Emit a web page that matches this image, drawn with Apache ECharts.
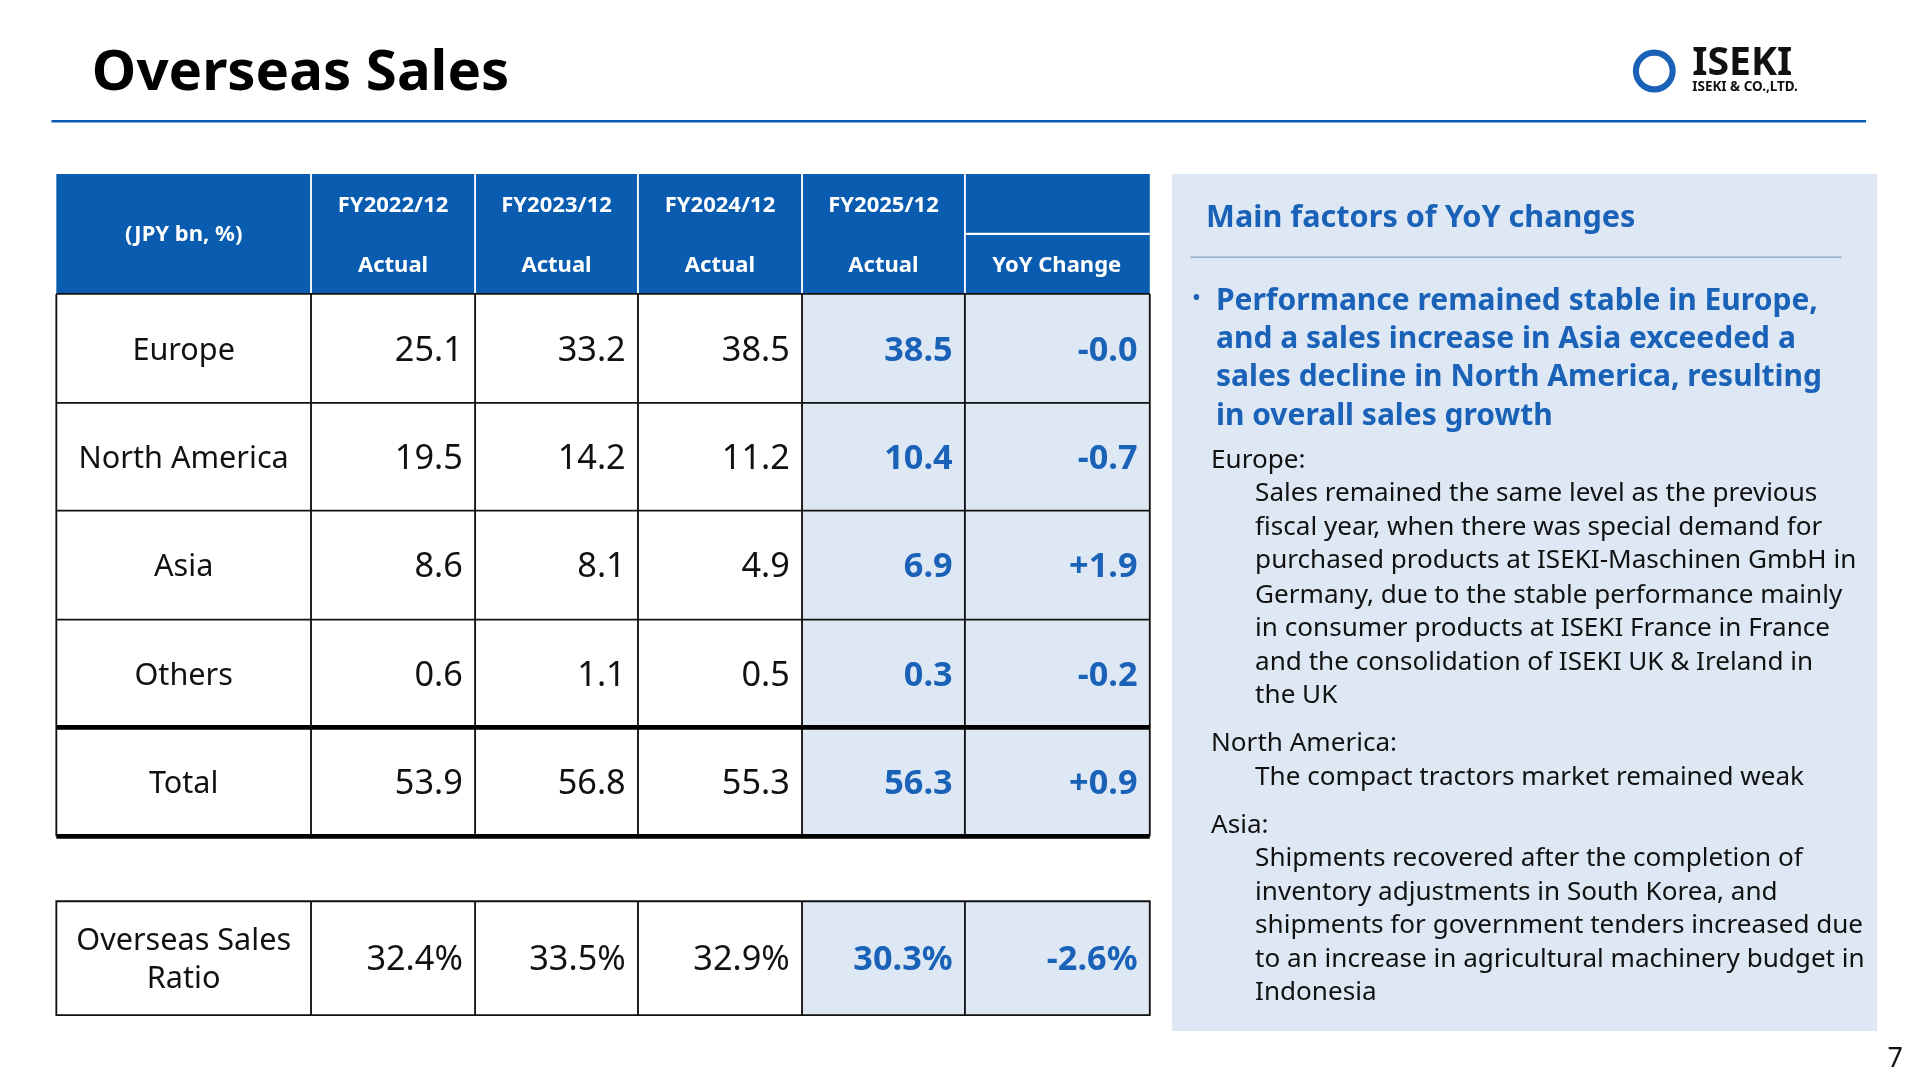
<!DOCTYPE html>
<html><head><meta charset="utf-8">
<script src="https://cdn.jsdelivr.net/npm/echarts@6/dist/echarts.min.js"></script>
<style>html,body{margin:0;padding:0;background:#fff}#main{width:1920px;height:1080px}</style>
</head><body><div id="main"></div>
<script>
// table data
const years = ['FY2022/12', 'FY2023/12', 'FY2024/12', 'FY2025/12']
const regions = ['Europe', 'North America', 'Asia', 'Others', 'Total']
const fy2022 = ['25.1', '19.5', '8.6', '0.6', '53.9']
const fy2023 = ['33.2', '14.2', '8.1', '1.1', '56.8']
const fy2024 = ['38.5', '11.2', '4.9', '0.5', '55.3']
const fy2025 = ['38.5', '10.4', '6.9', '0.3', '56.3']
const yoy = ['-0.0', '-0.7', '+1.9', '-0.2', '+0.9']
const ratio = ['32.4%', '33.5%', '32.9%', '30.3%', '-2.6%']

const s = 1920 / 1568
const BLUE = '#0a5cb0'
const TXTBLUE = '#1a62b8'
const LIGHT = '#dde8f4'
const FONT = '"Noto Sans", "Open Sans", sans-serif'
const els = []

function rect(x, y, w, h, fill, stroke, lw) {
  els.push({ type: 'rect', shape: { x: x * s, y: y * s, width: w * s, height: h * s },
    style: { fill: fill || 'none', stroke: stroke || null, lineWidth: (lw || 0) * s } })
}
function line(x1, y1, x2, y2, color, lw) {
  els.push({ type: 'line', shape: { x1: x1 * s, y1: y1 * s, x2: x2 * s, y2: y2 * s },
    style: { stroke: color, lineWidth: lw * s } })
}
function text(x, y, str, size, opt) {
  opt = opt || {}
  els.push({ type: 'text', x: x * s, y: y * s,
    style: { text: str, fill: opt.color || '#111', fontSize: size * s, fontWeight: opt.bold ? 'bold' : 'normal',
      fontFamily: FONT, align: opt.align || 'left', verticalAlign: opt.va || 'middle', lineHeight: (opt.lh || size * 1.2) * s } })
}

// title
text(75, 60, 'Overseas Sales', 46, { bold: true, color: '#000' })
line(42, 99, 1524, 99, BLUE, 2)
// logo
text(1382, 52, 'ISEKI', 32, { bold: true, color: '#111' })
text(1382, 71, 'ISEKI & CO.,LTD.', 11, { bold: true, color: '#111' })
els.push({ type: 'circle', shape: { cx: 1351 * s, cy: 58 * s, r: 15 * s }, style: { fill: 'none', stroke: '#1a62b8', lineWidth: 5 * s } })

// table
const cols = [46, 254, 388, 521, 655, 788, 939]
const rowsY = [240, 329, 417, 506, 594, 683]
rect(46, 142, 893, 98, BLUE)
line(788, 191, 939, 191, '#fff', 2)
text(150, 192, '(JPY bn, %)', 18, { bold: true, color: '#fff', align: 'center' })
years.forEach((y, i) => {
  const cx = (cols[i + 1] + cols[i + 2]) / 2
  text(cx, 168, y, 18, { bold: true, color: '#fff', align: 'center' })
  text(cx, 217, 'Actual', 18, { bold: true, color: '#fff', align: 'center' })
})
text(863, 217, 'YoY Change', 18, { bold: true, color: '#fff', align: 'center' })
for (let i = 1; i < 6; i++) line(cols[i], 142, cols[i], 240, '#fff', 1.5)

const dataCols = [fy2022, fy2023, fy2024, fy2025, yoy]
function dataRow(top, bottom, label, vals) {
  rect(655, top, 284, bottom - top, LIGHT)
  const cy = (top + bottom) / 2 + 2
  text(150, cy, label, 25, { align: 'center', lh: 31 })
  vals.forEach((v, i) => {
    const hi = i >= 3
    text(cols[i + 2] - 10, cy, v, 28, { align: 'right', bold: hi, color: hi ? TXTBLUE : '#111' })
  })
}
regions.forEach((r, i) => dataRow(rowsY[i], rowsY[i + 1], r, dataCols.map(c => c[i])))
for (let i = 0; i < cols.length; i++) line(cols[i], 240, cols[i], 683, '#111', 1.5)
for (let i = 1; i < rowsY.length - 2; i++) line(46, rowsY[i], 939, rowsY[i], '#111', 1.5)
line(46, 240, 939, 240, '#111', 1.5)
line(46, 594, 939, 594, '#000', 4)
line(46, 683, 939, 683, '#000', 4)

dataRow(736, 829, 'Overseas Sales\nRatio', ratio)
rect(46, 736, 893, 93, null, '#111', 1.5)
for (let i = 1; i < 6; i++) line(cols[i], 736, cols[i], 829, '#111', 1.5)

// right panel
rect(957, 142, 576, 700, LIGHT)
text(985, 178, 'Main factors of YoY changes', 25, { bold: true, color: TXTBLUE })
line(972, 210, 1504, 210, '#8aa2bd', 1)
text(974, 244, '•', 16, { bold: true, color: TXTBLUE })
const bullet = ['Performance remained stable in Europe,', 'and a sales increase in Asia exceeded a',
  'sales decline in North America, resulting', 'in overall sales growth']
bullet.forEach((t, i) => text(993, 246 + i * 31.3, t, 24.5, { bold: true, color: TXTBLUE }))
const body = [
  [989, 376, 'Europe:'],
  [1025, 403, 'Sales remained the same level as the previous'],
  [1025, 431, 'fiscal year, when there was special demand for'],
  [1025, 458, 'purchased products at ISEKI-Maschinen GmbH in'],
  [1025, 486, 'Germany, due to the stable performance mainly'],
  [1025, 513, 'in consumer products at ISEKI France in France'],
  [1025, 541, 'and the consolidation of ISEKI UK & Ireland in'],
  [1025, 568, 'the UK'],
  [989, 607, 'North America:'],
  [1025, 635, 'The compact tractors market remained weak'],
  [989, 674, 'Asia:'],
  [1025, 701, 'Shipments recovered after the completion of'],
  [1025, 729, 'inventory adjustments in South Korea, and'],
  [1025, 756, 'shipments for government tenders increased due'],
  [1025, 784, 'to an increase in agricultural machinery budget in'],
  [1025, 811, 'Indonesia']
]
body.forEach(b => text(b[0], b[1], b[2], 21.3))
text(1554, 865, '7', 22, { align: 'right' })

const chart = echarts.init(document.getElementById('main'))
chart.setOption({ animation: false, graphic: { elements: els } })
</script></body></html>
